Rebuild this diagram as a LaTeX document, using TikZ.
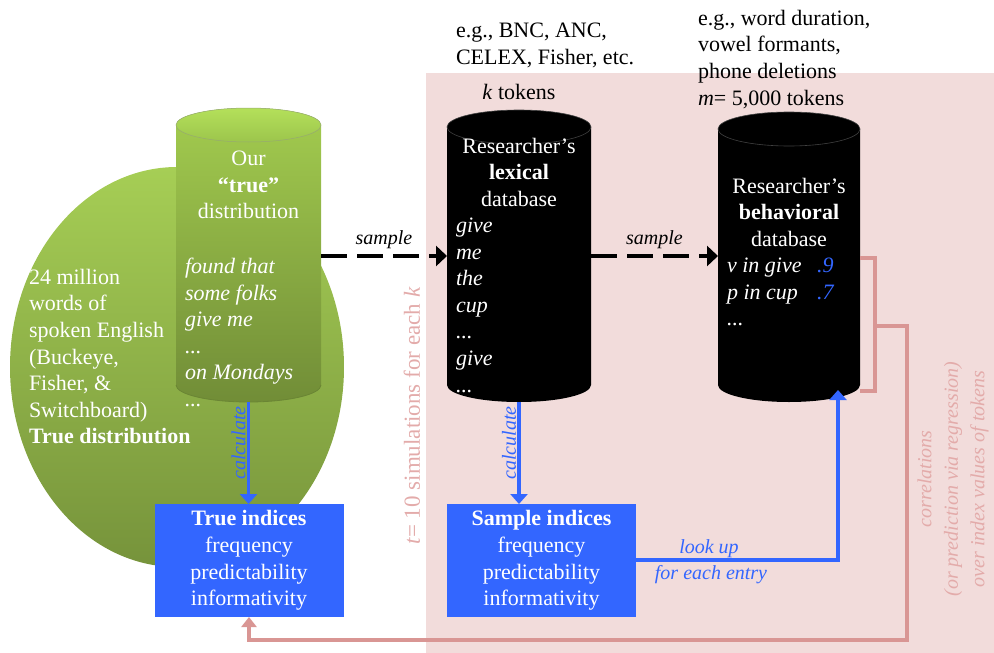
\documentclass[tikz,border=0pt]{standalone}
\usepackage{fontspec}
\setmainfont{Liberation Serif}
\usetikzlibrary{arrows.meta}
\definecolor{bgpink}{HTML}{F2DCDB}
\definecolor{pinkline}{HTML}{D99694}
\definecolor{pinktext}{HTML}{E3ABAA}
\definecolor{boxblue}{HTML}{3366FF}
\definecolor{ellA}{HTML}{A6CE55}
\definecolor{ellB}{HTML}{76933B}
\definecolor{cylG1}{HTML}{A3CC4F}
\definecolor{cylG2}{HTML}{718D37}
\definecolor{capG1}{HTML}{B4E05A}
\definecolor{capG2}{HTML}{9CC54C}
\definecolor{edgeG}{HTML}{6A8534}
\begin{document}
\begin{tikzpicture}[x=1pt,y=1pt]
\tikzset{
  plain/.style={inner sep=0pt, outer sep=0pt},
  txt/.style={plain, font=\fontsize{22}{26.6}\selectfont},
  wtxt/.style={txt, text=white},
  itl/.style={plain, font=\fontsize{20}{26.6}\selectfont\itshape},
  holder/.style={plain, minimum height=277pt},
  bluebox/.style={plain, fill=boxblue, text=white, minimum width=189pt, minimum height=113pt, align=center, font=\fontsize{22}{26.6}\selectfont},
  samplearrow/.style={line width=4.5pt, dash pattern=on 26pt off 10pt, -{Triangle[length=11pt,width=20pt]}},
  bluearrow/.style={draw=boxblue, line width=3.5pt, -{Triangle[length=10pt,width=17pt]}},
  pinkarrow/.style={draw=pinkline, line width=4pt, -{Triangle[length=10pt,width=15pt]}},
  pinkbracket/.style={draw=pinkline, line width=4pt},
  calclbl/.style={itl, text=boxblue, rotate=90, anchor=south, inner ysep=3pt}
}
\useasboundingbox (0,0) rectangle (994,-653);
% pink simulation region
\fill[bgpink] (426,-73) rectangle (994,-653);
% green ellipse
\shade[top color=ellA, bottom color=ellB] (177,-367) ellipse [x radius=167, y radius=200];
% green cylinder
\shade[top color=cylG1, bottom color=cylG2] (176,-125) -- (176,-385) arc[start angle=180,end angle=360,x radius=72.5,y radius=17] -- (321,-125) arc[start angle=0,end angle=180,x radius=72.5,y radius=17] -- cycle;
\draw[edgeG, line width=0.8pt] (176,-385) arc[start angle=180,end angle=360,x radius=72.5,y radius=17];
\shade[top color=capG1, bottom color=capG2] (248.5,-125) ellipse [x radius=72.5, y radius=17];
\draw[edgeG!70, line width=0.5pt] (248.5,-125) ellipse [x radius=72.5, y radius=17];
% black cylinders
\fill[black] (447,-127) -- (447,-385) arc[start angle=180,end angle=360,x radius=72,y radius=17] -- (591,-127) arc[start angle=0,end angle=180,x radius=72,y radius=17] -- cycle;
\draw[gray!50!black, line width=0.6pt] (519,-127) ellipse [x radius=72, y radius=17];
\fill[black] (718,-129) -- (718,-385) arc[start angle=180,end angle=360,x radius=71,y radius=17] -- (860,-129) arc[start angle=0,end angle=180,x radius=71,y radius=17] -- cycle;
\draw[gray!50!black, line width=0.6pt] (789,-129) ellipse [x radius=71, y radius=17];
% invisible holders for the cylinders
\node[holder, minimum width=145pt] (cylA) at (248.5,-263.5) {};
\node[holder, minimum width=144pt] (cylB) at (519,-263.5) {};
\node[holder, minimum width=142pt] (cylC) at (789,-263.5) {};
% ellipse text
\node[wtxt, align=left, anchor=north west] (elltxt) at (29,-269) {24 million\\words of\\spoken English\\(Buckeye,\\Fisher, \&\\Switchboard)\\\textbf{True distribution}};
% cylinder A text
\node[wtxt, align=center, anchor=north] (titA) at (248.5,-151) {Our\\\textbf{“true”}\\distribution};
\node[wtxt, align=left, anchor=north west, font=\fontsize{22}{26.6}\selectfont\itshape] (listA) at (185,-258) {found that\\some folks\\give me\\...\\on Mondays\\...};
% cylinder B text
\node[wtxt, align=center, anchor=north] (titB) at (519,-138) {Researcher’s\\\textbf{lexical}\\database};
\node[wtxt, align=left, anchor=north west, font=\fontsize{22}{26.6}\selectfont\itshape] (listB) at (456,-218) {give\\me\\the\\cup\\...\\give\\...};
% cylinder C text
\node[wtxt, align=center, anchor=north] (titC) at (789,-178) {Researcher’s\\\textbf{behavioral}\\database};
\node[wtxt, align=left, anchor=north west, font=\fontsize{22}{26.6}\selectfont\itshape] (listC) at (727,-258) {v in give\\p in cup\\...};
\node[txt, align=left, anchor=north west, text=boxblue, font=\fontsize{22}{26.6}\selectfont\itshape] (valsC) at (817,-258) {.9\\.7};
% top labels
\node[txt, align=left, anchor=north west] (corpora) at (456,-23) {e.g., BNC, ANC,\\CELEX, Fisher, etc.};
\node[txt, anchor=base] (ktok) at (519,-99) {\textit{k} tokens};
\node[txt, align=left, anchor=north west] (measures) at (698,-10) {e.g., word duration,\\vowel formants,\\phone deletions\\\textit{m}= 5,000 tokens};
% index boxes
\node[bluebox] (trueidx) at (249,-560.5) {\textbf{True indices}\\frequency\\predictability\\informativity};
\node[bluebox] (sampidx) at (541.5,-560.5) {\textbf{Sample indices}\\frequency\\predictability\\informativity};
% level coordinates
\coordinate (lvS) at (0,-256);
\coordinate (lvL) at (0,-560);
\coordinate (lkend) at (838,-390);
% sample arrows
\draw[samplearrow] (cylA.east |- lvS) -- (cylB.west |- lvS) node[itl, midway, above=7pt] {sample};
\draw[samplearrow] (cylB.east |- lvS) -- (cylC.west |- lvS) node[itl, midway, above=7pt] {sample};
% calculate arrows
\draw[bluearrow] (cylA.south) -- (cylA.south |- trueidx.north) node[calclbl, pos=0.4] {calculate};
\draw[bluearrow] (cylB.south) -- (cylB.south |- sampidx.north) node[calclbl, pos=0.4] {calculate};
% look up arrow
\draw[bluearrow] (sampidx.east |- lvL) -| (lkend);
\node[itl, text=boxblue, anchor=base] (lookup) at (709,-553) {look up};
\node[itl, text=boxblue, anchor=base] (foreach) at (711,-579) {for each entry};
% correlation bracket and return arrow
\coordinate (brT) at (875,-258);
\coordinate (brB) at (875,-391);
\coordinate (brM) at (875,-326);
\coordinate (rtC) at (907,-640);
\draw[pinkbracket] (cylC.east |- brT) -- (brT) -- (brB) -- (cylC.east |- brB);
\draw[pinkarrow] (brM) -| (rtC) -| (trueidx.south);
% rotated labels
\node[plain, rotate=90, text=pinktext, font=\fontsize{23}{26}\selectfont] (simlbl) at (412,-416) {\textit{t}= 10 simulations for each \textit{k}};
\node[plain, rotate=90, align=center, text=pinktext, font=\fontsize{20}{26.5}\selectfont\itshape] (corrlbl) at (953,-479) {correlations\\(or prediction via regression)\\over index values of tokens};
\end{tikzpicture}
\end{document}
